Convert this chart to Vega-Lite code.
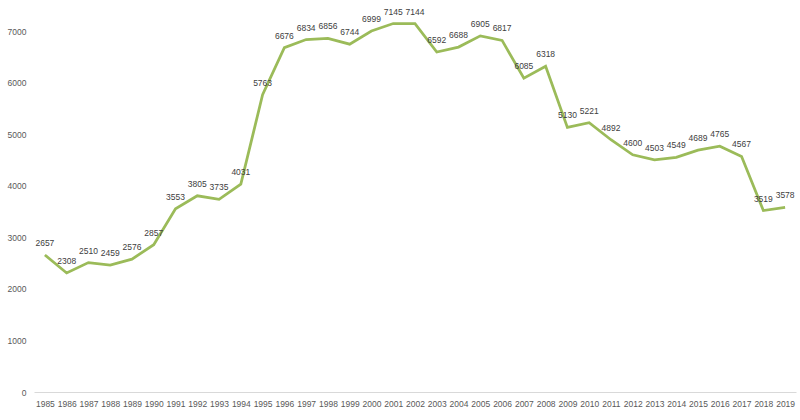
{
  "$schema": "https://vega.github.io/schema/vega-lite/v6.json",
  "width": 762,
  "height": 361,
  "autosize": {"type": "none"},
  "padding": {"left": 34, "top": 31, "right": 4, "bottom": 28},
  "background": "white",
  "config": {"view": {"stroke": null}, "font": "Liberation Sans"},
  "data": {"values": [
    {"year": "1985", "value": 2657}, {"year": "1986", "value": 2308}, {"year": "1987", "value": 2510},
    {"year": "1988", "value": 2459}, {"year": "1989", "value": 2576}, {"year": "1990", "value": 2857},
    {"year": "1991", "value": 3553}, {"year": "1992", "value": 3805}, {"year": "1993", "value": 3735},
    {"year": "1994", "value": 4031}, {"year": "1995", "value": 5763}, {"year": "1996", "value": 6676},
    {"year": "1997", "value": 6834}, {"year": "1998", "value": 6856}, {"year": "1999", "value": 6744},
    {"year": "2000", "value": 6999}, {"year": "2001", "value": 7145}, {"year": "2002", "value": 7144},
    {"year": "2003", "value": 6592}, {"year": "2004", "value": 6688}, {"year": "2005", "value": 6905},
    {"year": "2006", "value": 6817}, {"year": "2007", "value": 6085}, {"year": "2008", "value": 6318},
    {"year": "2009", "value": 5130}, {"year": "2010", "value": 5221}, {"year": "2011", "value": 4892},
    {"year": "2012", "value": 4600}, {"year": "2013", "value": 4503}, {"year": "2014", "value": 4549},
    {"year": "2015", "value": 4689}, {"year": "2016", "value": 4765}, {"year": "2017", "value": 4567},
    {"year": "2018", "value": 3519}, {"year": "2019", "value": 3578}
  ]},
  "encoding": {
    "x": {"field": "year", "type": "ordinal", "scale": {"type": "point", "padding": 0.5},
      "axis": {"title": null, "labelAngle": 0, "ticks": false, "domainColor": "#d9d9d9", "labelColor": "#595959", "labelFontSize": 8.5, "labelPadding": 7}},
    "y": {"field": "value", "type": "quantitative", "scale": {"domain": [0, 7000]},
      "axis": {"title": null, "values": [0, 1000, 2000, 3000, 4000, 5000, 6000, 7000], "format": "d", "grid": false, "ticks": false, "domain": false, "labelColor": "#595959", "labelFontSize": 8.5, "labelPadding": 8}}
  },
  "layer": [
    {"mark": {"type": "line", "color": "#9bbb59", "strokeWidth": 2.75, "clip": false}},
    {"mark": {"type": "text", "dy": -12, "fontSize": 8.5, "color": "#404040", "clip": false}, "encoding": {"text": {"field": "value", "type": "quantitative", "format": "d"}}}
  ]
}
